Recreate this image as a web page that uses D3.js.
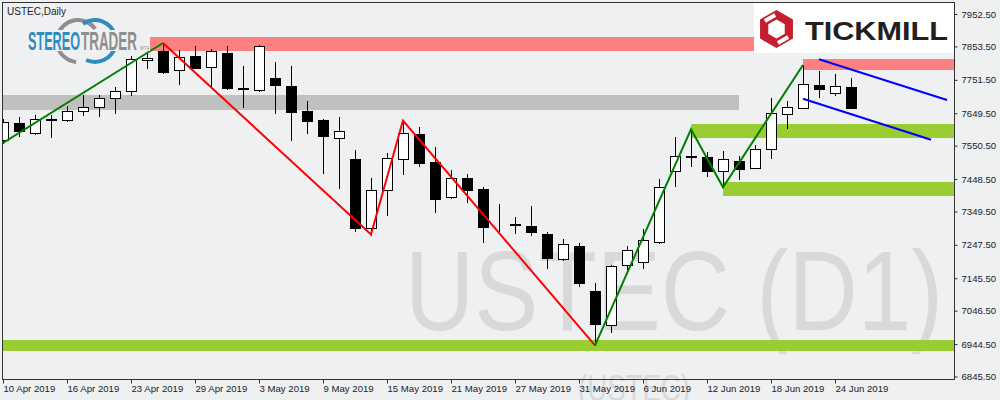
<!DOCTYPE html>
<html><head><meta charset="utf-8">
<script src="https://cdn.jsdelivr.net/npm/d3@7"></script>
<style>
html,body{margin:0;padding:0;background:#eff0f2;}
svg{display:block;}
</style></head>
<body>
<script>
// ---------- DATA ----------
const dates = ["10 Apr","11 Apr","12 Apr","15 Apr","16 Apr","17 Apr","18 Apr","22 Apr","23 Apr","24 Apr",
"25 Apr","26 Apr","29 Apr","30 Apr","1 May","2 May","3 May","6 May","7 May","8 May",
"9 May","10 May","13 May","14 May","15 May","16 May","17 May","20 May","21 May","22 May",
"23 May","24 May","27 May","28 May","29 May","30 May","31 May","3 Jun","4 Jun","5 Jun",
"6 Jun","7 Jun","10 Jun","11 Jun","12 Jun","13 Jun","14 Jun","17 Jun","18 Jun","19 Jun",
"20 Jun","21 Jun","24 Jun","25 Jun"];
const open  = [7567.7,7619.6,7590.0,7630.0,7627.9,7655.3,7667.6,7695.0,7717.3,7811.1,
7839.5,7780.6,7824.2,7789.7,7832.5,7726.5,7719.5,7756.1,7732.6,7656.3,
7628.8,7575.3,7509.7,7298.0,7414.1,7508.8,7586.0,7501.4,7394.5,7450.7,
7418.0,7305.0,7311.2,7305.1,7280.6,7203.3,7244.0,7106.5,7002.7,7185.0,
7196.0,7257.1,7472.1,7519.0,7514.9,7472.1,7502.6,7481.3,7539.3,7646.2,
7664.5,7735.7,7710.3,7729.6];
const high  = [7631.8,7637.0,7644.0,7644.0,7671.5,7705.1,7705.1,7730.5,7825.1,7837.4,
7863.9,7842.6,7854.8,7844.7,7854.8,7793.7,7857.8,7806.8,7793.7,7687.7,
7630.9,7637.9,7537.2,7450.7,7528.9,7627.2,7608.3,7547.2,7476.1,7462.9,
7423.2,7371.3,7331.6,7366.1,7287.6,7265.3,7252.2,7131.0,7186.0,7244.0,
7295.9,7448.6,7575.9,7600.4,7530.1,7534.1,7518.8,7552.4,7695.0,7686.8,
7796.7,7778.4,7769.3,7756.1];
const low   = [7558.5,7579.9,7586.0,7577.8,7627.0,7644.0,7641.9,7651.1,7705.1,7786.7,
7773.2,7738.7,7787.6,7730.5,7723.5,7669.4,7717.3,7651.1,7567.7,7590.0,
7467.8,7421.1,7290.7,7279.1,7338.6,7462.9,7489.2,7348.7,7389.6,7379.3,
7257.1,7290.7,7284.6,7277.6,7175.9,7202.7,7122.7,6940.7,6980.4,7160.6,
7177.7,7254.0,7428.1,7489.2,7458.7,7423.2,7449.5,7480.7,7513.6,7605.3,
7664.0,7699.9,7705.1,7665.4];
const close = [7622.7,7596.1,7630.9,7632.0,7657.2,7667.6,7695.0,7718.3,7814.2,7819.0,
7776.3,7820.3,7788.5,7839.5,7725.6,7723.5,7855.7,7735.7,7654.1,7626.6,
7580.8,7595.2,7299.9,7415.0,7511.8,7589.1,7496.5,7388.4,7450.7,7415.0,
7302.9,7306.0,7308.1,7285.8,7208.2,7249.2,7131.9,7004.8,7182.9,7230.8,
7262.3,7423.5,7517.9,7517.0,7473.9,7508.8,7480.0,7539.3,7649.2,7669.4,
7738.7,7722.5,7732.6,7666.3];

const yTicks = [7952.5,7853.5,7751.5,7649.5,7550.5,7448.5,7349.5,7247.5,7145.5,7046.5,6944.5,6845.5];
const xTickIdx = [0,4,8,12,16,20,24,28,32,36,40,44,48,52];
const xTickLabels = ["10 Apr 2019","16 Apr 2019","23 Apr 2019","29 Apr 2019","3 May 2019","9 May 2019",
"15 May 2019","21 May 2019","27 May 2019","31 May 2019","6 Jun 2019","12 Jun 2019","18 Jun 2019","24 Jun 2019"];

// zones: start bar, end bar, low price, high price, kind
const zoneStart = [9.1, 50, -1, 43, 45, -1];
const zoneEnd   = [70, 70, 46.0, 70, 70, 70];
const zoneLow   = [7839.5, 7781.5, 7659.3, 7574.7, 7397.6, 6923.3];
const zoneHigh  = [7882.3, 7815.1, 7705.1, 7616.6, 7438.5, 6956.9];
const zoneKind  = ["resist","resist","neutral","support","support","support"];

// zigzag pivots (bar index, price)
const zigUp1   = [[0,7558.5],[10,7863.9]];
const zigDown  = [[10,7863.9],[23,7279.1],[25,7627.2],[37,6940.7]];
const zigUp2   = [[37,6940.7],[43,7600.4],[45,7423.2],[50,7796.7]];
// channel lines (bar index, price)
const chanUpper = [[51,7814.2],[59,7689.9]];
const chanLower = [[50,7693.8],[58,7568.6]];

const symbol = "USTEC", period = "Daily", watermark = "USTEC (D1)", watermark2 = "(USTEC)";

// ---------- CHART ----------
const W = 1000, H = 400;
const L = 3, R = 954, T = 3, B = 379;
const BG = "#eff0f2";
const svg = d3.select("body").append("svg").attr("width", W).attr("height", H);
svg.append("rect").attr("width", W).attr("height", H).attr("fill", BG);

const x = d3.scaleLinear().domain([0, (R - L) / 16]).range([L, R]);
const y = d3.scaleLinear().domain([6845.5, 7952.5]).range([376.5, 14]);
const px = v => Math.round(x(v));
const py = v => Math.round(y(v));

svg.append("clipPath").attr("id", "clip").append("rect")
  .attr("x", L).attr("y", T).attr("width", R - L).attr("height", B - T);
const plot = svg.append("g").attr("clip-path", "url(#clip)");

// watermark
plot.append("text").attr("x", 405).attr("y", 330)
  .attr("font-family", "'Liberation Sans', Arial, sans-serif").attr("font-size", 114)
  .attr("fill", "#d9d9da").attr("textLength", 538).attr("lengthAdjust", "spacingAndGlyphs")
  .text(watermark);
svg.append("text").attr("x", 578).attr("y", 401)
  .attr("font-family", "'Liberation Sans', Arial, sans-serif").attr("font-size", 36)
  .attr("fill", "#d9d9da").attr("textLength", 112).attr("lengthAdjust", "spacingAndGlyphs")
  .text(watermark2);

// zones
const zoneColor = {resist: "#ff8080", neutral: "#c0c0c0", support: "#9acd32"};
plot.selectAll("rect.zone").data(d3.range(zoneLow.length)).join("rect")
  .attr("class", "zone")
  .attr("x", i => px(zoneStart[i]))
  .attr("width", i => px(zoneEnd[i]) - px(zoneStart[i]))
  .attr("y", i => py(zoneHigh[i]))
  .attr("height", i => py(zoneLow[i]) - py(zoneHigh[i]))
  .attr("fill", i => zoneColor[zoneKind[i]]);

// candles
const idx = d3.range(open.length);
const cg = plot.append("g").attr("shape-rendering", "crispEdges");
cg.selectAll("line.wick").data(idx).join("line")
  .attr("x1", i => px(i) + 0.5).attr("x2", i => px(i) + 0.5)
  .attr("y1", i => py(high[i])).attr("y2", i => py(low[i]) + 1)
  .attr("stroke", "#000").attr("stroke-width", 1);
cg.selectAll("rect.body").data(idx).join("rect")
  .attr("x", i => px(i) - 5 + 0.5)
  .attr("width", 10)
  .attr("y", i => py(Math.max(open[i], close[i])) + 0.5)
  .attr("height", i => Math.max(0, py(Math.min(open[i], close[i])) - py(Math.max(open[i], close[i]))))
  .attr("fill", i => close[i] >= open[i] ? "#fff" : "#000")
  .attr("stroke", "#000").attr("stroke-width", 1);

// zigzag + channel
const line = d3.line().x(d => x(d[0])).y(d => y(d[1]));
plot.append("path").attr("d", line(zigUp1)).attr("fill", "none").attr("stroke", "#008000").attr("stroke-width", 2);
plot.append("path").attr("d", line(zigDown)).attr("fill", "none").attr("stroke", "#ff0000").attr("stroke-width", 2);
plot.append("path").attr("d", line(zigUp2)).attr("fill", "none").attr("stroke", "#008000").attr("stroke-width", 2);
plot.append("path").attr("d", line(chanUpper)).attr("fill", "none").attr("stroke", "#0000ff").attr("stroke-width", 2);
plot.append("path").attr("d", line(chanLower)).attr("fill", "none").attr("stroke", "#0000ff").attr("stroke-width", 2);

// frame
svg.append("rect").attr("x", L - 0.5).attr("y", T - 0.5).attr("width", R - L + 1).attr("height", B - T + 1)
  .attr("fill", "none").attr("stroke", "#333").attr("stroke-width", 1).attr("shape-rendering", "crispEdges");

// axes
const FONT = "'Liberation Sans', Arial, sans-serif";
const ya = svg.append("g").attr("transform", `translate(${R + 0.5},0)`)
  .call(d3.axisRight(y).tickValues(yTicks).tickSize(3).tickPadding(4).tickFormat(d => d.toFixed(2)));
ya.select(".domain").remove();
ya.selectAll("line").attr("stroke", "#333");
ya.selectAll("text").attr("font-family", FONT).attr("font-size", 9.6).attr("fill", "#222");

const xa = svg.append("g").attr("transform", `translate(0,${B + 0.5})`)
  .call(d3.axisBottom(x).tickValues(xTickIdx).tickSize(4).tickFormat((d, k) => xTickLabels[k]));
xa.select(".domain").remove();
xa.selectAll("line").attr("stroke", "#333");
xa.selectAll("text").attr("font-family", FONT).attr("font-size", 9.6).attr("fill", "#222")
  .attr("text-anchor", "start").attr("x", 0).attr("y", 6);

// title
svg.append("text").attr("x", 7).attr("y", 15).attr("font-family", FONT).attr("font-size", 10)
  .attr("fill", "#222").text(`${symbol},${period}`);

// StereoTrader logo
const lg = svg.append("g");
const arcG = d3.arc().innerRadius(19).outerRadius(23);
const deg = Math.PI / 180;
lg.append("path").attr("transform", "translate(78,41)").attr("fill", "#8e8e8e")
  .attr("d", arcG({startAngle: -75 * deg, endAngle: 55 * deg}));
lg.append("path").attr("transform", "translate(78,41)").attr("fill", "#8e8e8e")
  .attr("d", arcG({startAngle: 185 * deg, endAngle: 255 * deg}));
lg.append("path").attr("transform", "translate(95,41)").attr("fill", "#2f8cbf")
  .attr("d", arcG({startAngle: -35 * deg, endAngle: 75 * deg}));
lg.append("path").attr("transform", "translate(95,41)").attr("fill", "#2f8cbf")
  .attr("d", arcG({startAngle: 105 * deg, endAngle: 205 * deg}));
lg.append("rect").attr("x", 26).attr("y", 30).attr("width", 124).attr("height", 21).attr("fill", BG);
lg.append("text").attr("x", 28).attr("y", 49.5).attr("font-family", FONT).attr("font-weight", "bold")
  .attr("font-size", 25).attr("fill", "#2f8cbf").attr("textLength", 52).attr("lengthAdjust", "spacingAndGlyphs").text("STEREO");
lg.append("text").attr("x", 81).attr("y", 49.5).attr("font-family", FONT).attr("font-weight", "bold")
  .attr("font-size", 25).attr("fill", "#8e8e8e").attr("textLength", 56).attr("lengthAdjust", "spacingAndGlyphs").text("TRADER");
lg.append("text").attr("x", 140).attr("y", 49.5).attr("font-family", FONT).attr("font-size", 4.5)
  .attr("fill", "#8e8e8e").text("MT4");

// Tickmill logo
const tk = svg.append("g");
tk.append("rect").attr("x", 754).attr("y", 3).attr("width", 200).attr("height", 50).attr("fill", "#fff");
const hex = (cx, cy, r) => d3.range(6).map(k => {
  const a = (k * 60 - 90) * deg; return [cx + r * Math.cos(a), cy + r * Math.sin(a)];
});
const hp = pts => "M" + pts.map(p => p.join(",")).join("L") + "Z";
tk.append("path").attr("d", hp(hex(776.5, 29, 19)) + hp(hex(776.5, 29, 9.5)))
  .attr("fill", "#c41f2f").attr("fill-rule", "evenodd");
tk.append("rect").attr("x", 764).attr("y", 16).attr("width", 12).attr("height", 4).attr("fill", "#fff")
  .attr("transform", "rotate(-30,770,18)");
tk.append("rect").attr("x", 777).attr("y", 38).attr("width", 12).attr("height", 4).attr("fill", "#fff")
  .attr("transform", "rotate(-30,783,40)");
tk.append("text").attr("x", 805).attr("y", 39.5).attr("font-family", FONT).attr("font-weight", "bold")
  .attr("font-size", 26.5).attr("fill", "#231f20").attr("textLength", 143).attr("lengthAdjust", "spacingAndGlyphs")
  .text("TICKMILL");
</script>
</body></html>
